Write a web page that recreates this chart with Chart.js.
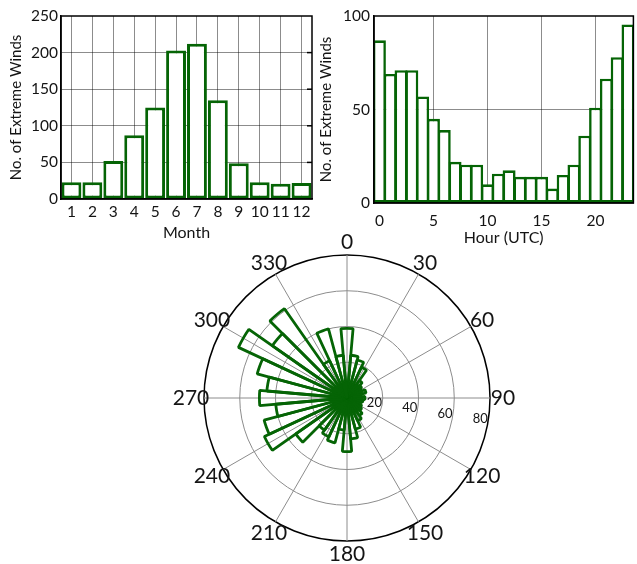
<!DOCTYPE html>
<html>
<head>
<meta charset="utf-8">
<script src="https://cdn.jsdelivr.net/npm/chart.js@4.4.1/dist/chart.umd.min.js"></script>
<style>
html,body{margin:0;padding:0;background:#fff;overflow:hidden;width:637px;height:564px;}
canvas{position:absolute;}
#cM{left:0;top:0;}
#cH{left:310px;top:0;}
#cP{left:157px;top:228px;}
</style>
</head>
<body>
<canvas id="cM" width="320" height="245"></canvas>
<canvas id="cH" width="327" height="250"></canvas>
<canvas id="cP" width="380" height="340"></canvas>
<script>
// ---------- data ----------
const monthLabels = ['1','2','3','4','5','6','7','8','9','10','11','12'];
const monthCounts = [23, 23, 52, 87, 125, 203, 212, 135, 49, 23, 21, 22];

const hourLabels = ['0','1','2','3','4','5','6','7','8','9','10','11','12','13','14','15','16','17','18','19','20','21','22','23'];
const hourCounts = [87, 69, 71, 71, 57, 45, 39, 22, 20.5, 20.5, 10, 15.7, 17.5, 14, 14, 14, 7.7, 15, 20.5, 36, 51, 66.5, 78, 95.5];

const dirLabels = ['0','10','20','30','40','50','60','70','80','90','100','110','120','130','140','150','160','170',
                   '180','190','200','210','220','230','240','250','260','270','280','290','300','310','320','330','340','350'];
const dirCounts = [39, 24, 22, 19, 12, 10, 9, 11, 8, 10, 9, 8, 9, 10, 12, 14, 18, 23,
                   30, 18, 26, 24, 22, 35, 51, 48, 40, 49, 45, 52, 67, 51, 61, 23, 40, 24];

const monthYTicks = [0, 50, 100, 150, 200, 250];
const hourYTicks = [0, 50, 100];
const compassTicks = ['0','30','60','90','120','150','180','210','240','270','300','330'];
const radialTicks = [20, 40, 60, 80];

// ---------- styles ----------
const GREEN = '#056405';
const GRID = 'rgba(0,0,0,0.45)';
const TXT = '#141414';
const FF = 'Lato, "Noto Sans", sans-serif';
Chart.defaults.font.family = FF;
Chart.defaults.color = TXT;

const framePlugin = {
  id: 'frame',
  afterDraw(chart, args, opts) {
    const {ctx, chartArea: a} = chart;
    ctx.save();
    ctx.strokeStyle = '#000';
    ctx.lineWidth = 1.5;
    ctx.strokeRect(a.left, a.top, a.right - a.left, a.bottom - a.top);
    if (opts.rightTicks) {
      const y = chart.scales.y;
      opts.rightTicks.forEach(v => {
        const py = y.getPixelForValue(v);
        ctx.beginPath();
        ctx.moveTo(a.right, py);
        ctx.lineTo(a.right - 5, py);
        ctx.stroke();
      });
    }
    ctx.restore();
  }
};

function barOptions(cfg) {
  return {
    responsive: false,
    animation: false,
    devicePixelRatio: 1,
    layout: {padding: {left: 0, right: cfg.padRight, top: 16, bottom: 0}},
    plugins: {legend: {display: false}, tooltip: {enabled: false}, frame: {rightTicks: cfg.rightTicks}},
    scales: {
      x: {
        type: 'category',
        offset: true,
        grid: {offset: false, drawTicks: false, color: cfg.xGridColor, lineWidth: 1},
        border: {display: true, color: '#000', width: 1.5},
        ticks: {autoSkip: false, maxRotation: 0, minRotation: 0, padding: cfg.xTickPad,
                font: {size: 15.5}, color: TXT, callback: cfg.xTickCb},
        title: {display: true, text: cfg.xTitle, font: {size: 16}, color: TXT, padding: {top: 0, bottom: cfg.xTitlePad}},
        afterFit: s => { s.height = cfg.xHeight; }
      },
      y: {
        min: 0, max: cfg.yMax,
        afterBuildTicks: s => { s.ticks = cfg.yTicks.map(v => ({value: v})); },
        grid: {drawTicks: false, color: c => (c.tick && (c.tick.value === 0 || c.tick.value === cfg.yMax)) ? 'rgba(0,0,0,0)' : GRID, lineWidth: 1},
        border: {display: true, color: '#000', width: 1.5},
        ticks: {padding: cfg.yTickPad, font: {size: 15.5}, color: TXT},
        title: {display: true, text: 'No. of Extreme Winds', font: {size: 15}, color: TXT, padding: {top: 7, bottom: 0}},
        afterFit: s => { s.width = cfg.yWidth; }
      }
    }
  };
}

// ---------- month chart ----------
new Chart(document.getElementById('cM'), {
  type: 'bar',
  data: {
    labels: monthLabels,
    datasets: [{data: monthCounts, backgroundColor: '#ffffff', borderColor: GREEN, borderWidth: 3,
                borderSkipped: false, barPercentage: 0.95, categoryPercentage: 1}]
  },
  options: barOptions({
    padRight: 8, xHeight: 46, yWidth: 61, yMax: 250, yTicks: monthYTicks,
    xGridColor: GRID, xTickPad: 4, xTitle: 'Month', xTitlePad: 3, yTickPad: 3,
    xTickCb: function(v, i) { return monthLabels[i]; },
    rightTicks: [50, 100, 150, 200]
  }),
  plugins: [framePlugin]
});

// ---------- hour chart ----------
new Chart(document.getElementById('cH'), {
  type: 'bar',
  data: {
    labels: hourLabels,
    datasets: [{data: hourCounts, backgroundColor: '#ffffff', borderColor: GREEN, borderWidth: 2.6,
                borderSkipped: false, barPercentage: 1.2, categoryPercentage: 1}]
  },
  options: barOptions({
    padRight: 0, xHeight: 47, yWidth: 64, yMax: 100, yTicks: hourYTicks,
    xGridColor: c => (c.index % 5 === 0 && c.index > 0) ? GRID : 'rgba(0,0,0,0)',
    xTickPad: 9, xTitle: 'Hour (UTC)', xTitlePad: 3, yTickPad: 4,
    xTickCb: function(v, i) { return i % 5 === 0 ? hourLabels[i] : ''; },
    rightTicks: null
  }),
  plugins: [framePlugin]
});

// ---------- polar (direction) chart ----------
function polarXY(scale, deg, r) {
  const a = deg * Math.PI / 180;
  return [scale.xCenter + r * Math.sin(a), scale.yCenter - r * Math.cos(a)];
}
const polarDecor = {
  id: 'polarDecor',
  beforeDatasetsDraw(chart) {
    const s = chart.scales.r, ctx = chart.ctx;
    ctx.save();
    ctx.strokeStyle = '#8c8c8c';
    ctx.lineWidth = 1;
    compassTicks.forEach(t => {
      const [x, y] = polarXY(s, +t, s.drawingArea);
      ctx.beginPath();
      ctx.moveTo(s.xCenter, s.yCenter);
      ctx.lineTo(x, y);
      ctx.stroke();
    });
    ctx.restore();
  },
  afterDatasetsDraw(chart) {
    const s = chart.scales.r, ctx = chart.ctx;
    ctx.save();
    ctx.fillStyle = TXT;
    ctx.textAlign = 'center';
    ctx.textBaseline = 'middle';
    ctx.font = '21px ' + FF;
    compassTicks.forEach(t => {
      const [x, y] = polarXY(s, +t, s.drawingArea + 13);
      ctx.fillText(t, x, y);
    });
    ctx.font = '13px ' + FF;
    radialTicks.forEach(v => {
      const [x, y] = polarXY(s, 99, s.getDistanceFromCenterForValue(v) - 8);
      ctx.fillText(String(v), x, y);
    });
    ctx.restore();
  }
};

new Chart(document.getElementById('cP'), {
  type: 'polarArea',
  data: {
    labels: dirLabels,
    datasets: [{data: dirCounts, backgroundColor: 'rgba(255,255,255,0)', borderColor: GREEN, borderWidth: 2.8}]
  },
  options: {
    responsive: false,
    animation: false,
    devicePixelRatio: 1,
    layout: {padding: {left: 47, right: 47, top: 27, bottom: 27}},
    plugins: {legend: {display: false}, tooltip: {enabled: false}},
    scales: {
      r: {
        min: 0, max: 80, startAngle: -5,
        ticks: {display: false, stepSize: 20},
        grid: {circular: true,
               color: c => (c.tick && c.tick.value === 80) ? '#000' : '#8c8c8c',
               lineWidth: c => (c.tick && c.tick.value === 80) ? 1.5 : 1},
        angleLines: {display: false},
        pointLabels: {display: false}
      }
    }
  },
  plugins: [polarDecor]
});
</script>
</body>
</html>
